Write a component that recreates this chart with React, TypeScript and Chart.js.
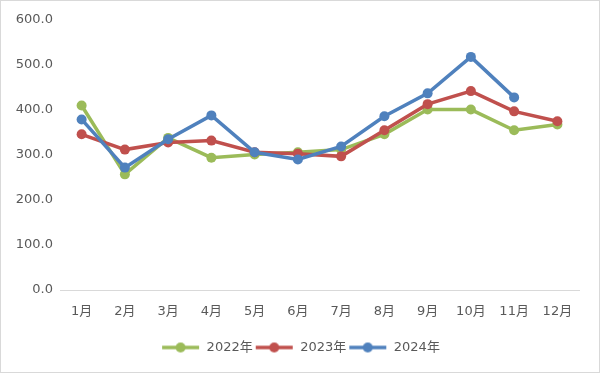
import React, { useEffect, useRef } from "react";
import { Chart, registerables } from "chart.js";

Chart.register(...registerables);

const categories = ["1月", "2月", "3月", "4月", "5月", "6月", "7月", "8月", "9月", "10月", "11月", "12月"];
const seriesNames = ["2022年", "2023年", "2024年"];
const values2022 = [410, 257, 338, 294, 301, 306, 312, 346, 401, 401, 355, 368];
const values2023 = [346, 312, 328, 332, 306, 303, 297, 355, 413, 442, 397, 375];
const values2024 = [379, 272, 335, 388, 306, 290, 319, 386, 437, 518, 428, null];
const yTicks = [0, 100, 200, 300, 400, 500, 600];

const colors = ["#9BBB59", "#C0504D", "#4F81BD"];
const FONT = "'DejaVu Sans', 'Noto Sans CJK SC', sans-serif";

function makeMarker(color: string): HTMLCanvasElement {
  const c = document.createElement("canvas");
  c.width = 40;
  c.height = 12;
  const ctx = c.getContext("2d")!;
  ctx.strokeStyle = color;
  ctx.lineWidth = 3.5;
  ctx.beginPath();
  ctx.moveTo(2, 6);
  ctx.lineTo(39, 6);
  ctx.stroke();
  ctx.fillStyle = color;
  ctx.beginPath();
  ctx.arc(20.5, 6, 5, 0, Math.PI * 2);
  ctx.fill();
  return c;
}

export default function App() {
  const ref = useRef<HTMLCanvasElement | null>(null);

  useEffect(() => {
    if (!ref.current) return;
    const markers = colors.map(makeMarker);
    const allValues = [values2022, values2023, values2024];
    const chart = new Chart(ref.current, {
      type: "line",
      data: {
        labels: categories,
        datasets: allValues.map((vals, i) => ({
          label: seriesNames[i],
          data: vals,
          borderColor: colors[i],
          backgroundColor: colors[i],
          pointBackgroundColor: colors[i],
          pointBorderColor: colors[i],
          pointBorderWidth: 0,
          pointRadius: 5,
          borderWidth: 3.5,
          tension: 0,
          order: 3 - i,
          yAxisID: "y",
        })),
      },
      options: {
        animation: false,
        responsive: false,
        layout: { padding: { left: 0, right: 0, top: 20, bottom: 9 } },
        plugins: {
          tooltip: { enabled: false },
          legend: {
            position: "bottom",
            labels: {
              usePointStyle: true,
              pointStyleWidth: 40,
              padding: 1,
              color: "#595959",
              font: { family: FONT, size: 13 },
              generateLabels: (ch: any) =>
                ch.data.datasets.map((ds: any, i: number) => ({
                  text: ds.label,
                  fillStyle: colors[i],
                  strokeStyle: colors[i],
                  lineWidth: 0,
                  pointStyle: markers[i],
                  datasetIndex: i,
                  hidden: false,
                  fontColor: "#595959",
                })),
            },
          },
        },
        scales: {
          x: {
            offset: true,
            grid: { display: false, drawTicks: false },
            border: { display: true, color: "#D9D9D9", width: 1 },
            ticks: { color: "#595959", font: { family: FONT, size: 13 }, padding: 14, maxRotation: 0 },
            afterFit: (s: any) => {
              s.height = 50;
            },
          },
          y: {
            min: 0,
            max: 600,
            afterBuildTicks: (s: any) => {
              s.ticks = yTicks.map((v) => ({ value: v }));
            },
            grid: { display: false, drawTicks: false },
            border: { display: false },
            ticks: {
              color: "#595959",
              font: { family: FONT, size: 13 },
              padding: 7,
              callback: (v: any) => Number(v).toFixed(1),
            },
            afterFit: (s: any) => {
              s.width = 60;
            },
          },
          yRight: {
            position: "right",
            min: 0,
            max: 1,
            grid: { display: false, drawTicks: false },
            border: { display: false },
            ticks: { display: false },
            afterFit: (s: any) => {
              s.width = 21;
            },
          },
        },
      },
      plugins: [
        {
          id: "bgBorder",
          beforeDraw: (ch: any) => {
            const ctx = ch.ctx;
            ctx.save();
            ctx.fillStyle = "#FFFFFF";
            ctx.fillRect(0, 0, ch.width, ch.height);
            ctx.strokeStyle = "#D9D9D9";
            ctx.lineWidth = 1;
            ctx.strokeRect(0.5, 0.5, ch.width - 1, ch.height - 1);
            ctx.restore();
          },
        },
      ],
    });
    return () => chart.destroy();
  }, []);

  return (
    <div style={{ position: "fixed", left: 0, top: 0, width: 600, height: 373 }}>
      <canvas ref={ref} width={600} height={373} style={{ display: "block", width: 600, height: 373 }} />
    </div>
  );
}
